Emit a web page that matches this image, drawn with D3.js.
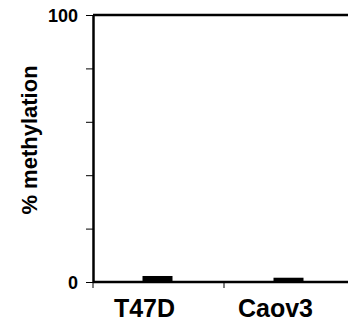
<!DOCTYPE html>
<html>
<head>
<meta charset="utf-8">
<script src="https://cdn.jsdelivr.net/npm/d3@7/dist/d3.min.js"></script>
<style>
  html, body { margin: 0; padding: 0; background: #fff; }
  svg { display: block; font-family: Arial, "Liberation Sans", sans-serif; }
</style>
</head>
<body>
<div id="chart"></div>
<script>
// data
const categories = ['T47D', 'Caov3'];
const methylation = [2.25, 1.6];
const yTicks = [0, 20, 40, 60, 80, 100];
const yLabelTicks = [0, 100];

const width = 348, height = 322;
const plotTop = 15, plotBottom = 282, axisX = 93;

const svg = d3.select('#chart').append('svg')
  .attr('width', width)
  .attr('height', height);

const x = d3.scaleBand()
  .domain(categories)
  .range([92, 354]);

const y = d3.scaleLinear()
  .domain([0, 100])
  .range([plotBottom, plotTop]);

// bars
const barW = 30;
svg.append('g')
  .selectAll('rect')
  .data(categories)
  .join('rect')
  .attr('x', d => x(d) + x.bandwidth() / 2 - barW / 2)
  .attr('y', (d, i) => y(methylation[i]))
  .attr('width', barW)
  .attr('height', (d, i) => y(0) - y(methylation[i]))
  .attr('fill', '#000');

// top frame line
svg.append('line')
  .attr('x1', axisX).attr('x2', width + 5)
  .attr('y1', y(100)).attr('y2', y(100))
  .attr('stroke', '#000').attr('stroke-width', 2.5);

// y axis (ticks only, labels drawn below)
const yAxis = svg.append('g')
  .attr('transform', `translate(${axisX},0)`)
  .call(d3.axisLeft(y).tickValues(yTicks).tickSize(7).tickSizeOuter(0)
    .tickFormat(''));
yAxis.select('.domain').attr('stroke-width', 2.5);
yAxis.selectAll('.tick line').attr('stroke-width', 1);

svg.append('g')
  .selectAll('text')
  .data(yLabelTicks)
  .join('text')
  .attr('x', axisX - 15)
  .attr('y', d => y(d))
  .attr('dy', '0.38em')
  .attr('text-anchor', 'end')
  .attr('font-size', 18)
  .attr('font-weight', 'bold')
  .attr('fill', '#000')
  .text(d => d);

// x axis line + boundary ticks
svg.append('line')
  .attr('x1', axisX).attr('x2', width + 5)
  .attr('y1', y(0)).attr('y2', y(0))
  .attr('stroke', '#000').attr('stroke-width', 2.5);

svg.append('g')
  .selectAll('line')
  .data(categories)
  .join('line')
  .attr('x1', d => x(d) + 1).attr('x2', d => x(d) + 1)
  .attr('y1', y(0)).attr('y2', y(0) + 6)
  .attr('stroke', '#000').attr('stroke-width', 1);

// category labels
svg.append('g')
  .selectAll('text')
  .data(categories)
  .join('text')
  .attr('x', d => x(d) + x.bandwidth() / 2 - 13)
  .attr('y', 317)
  .attr('text-anchor', 'middle')
  .attr('font-size', 25)
  .attr('font-weight', 'bold')
  .text(d => d);

// y title
svg.append('text')
  .attr('transform', 'translate(37,140) rotate(-90)')
  .attr('text-anchor', 'middle')
  .attr('font-size', 22)
  .attr('font-weight', 'bold')
  .text('% methylation');
</script>
</body>
</html>
